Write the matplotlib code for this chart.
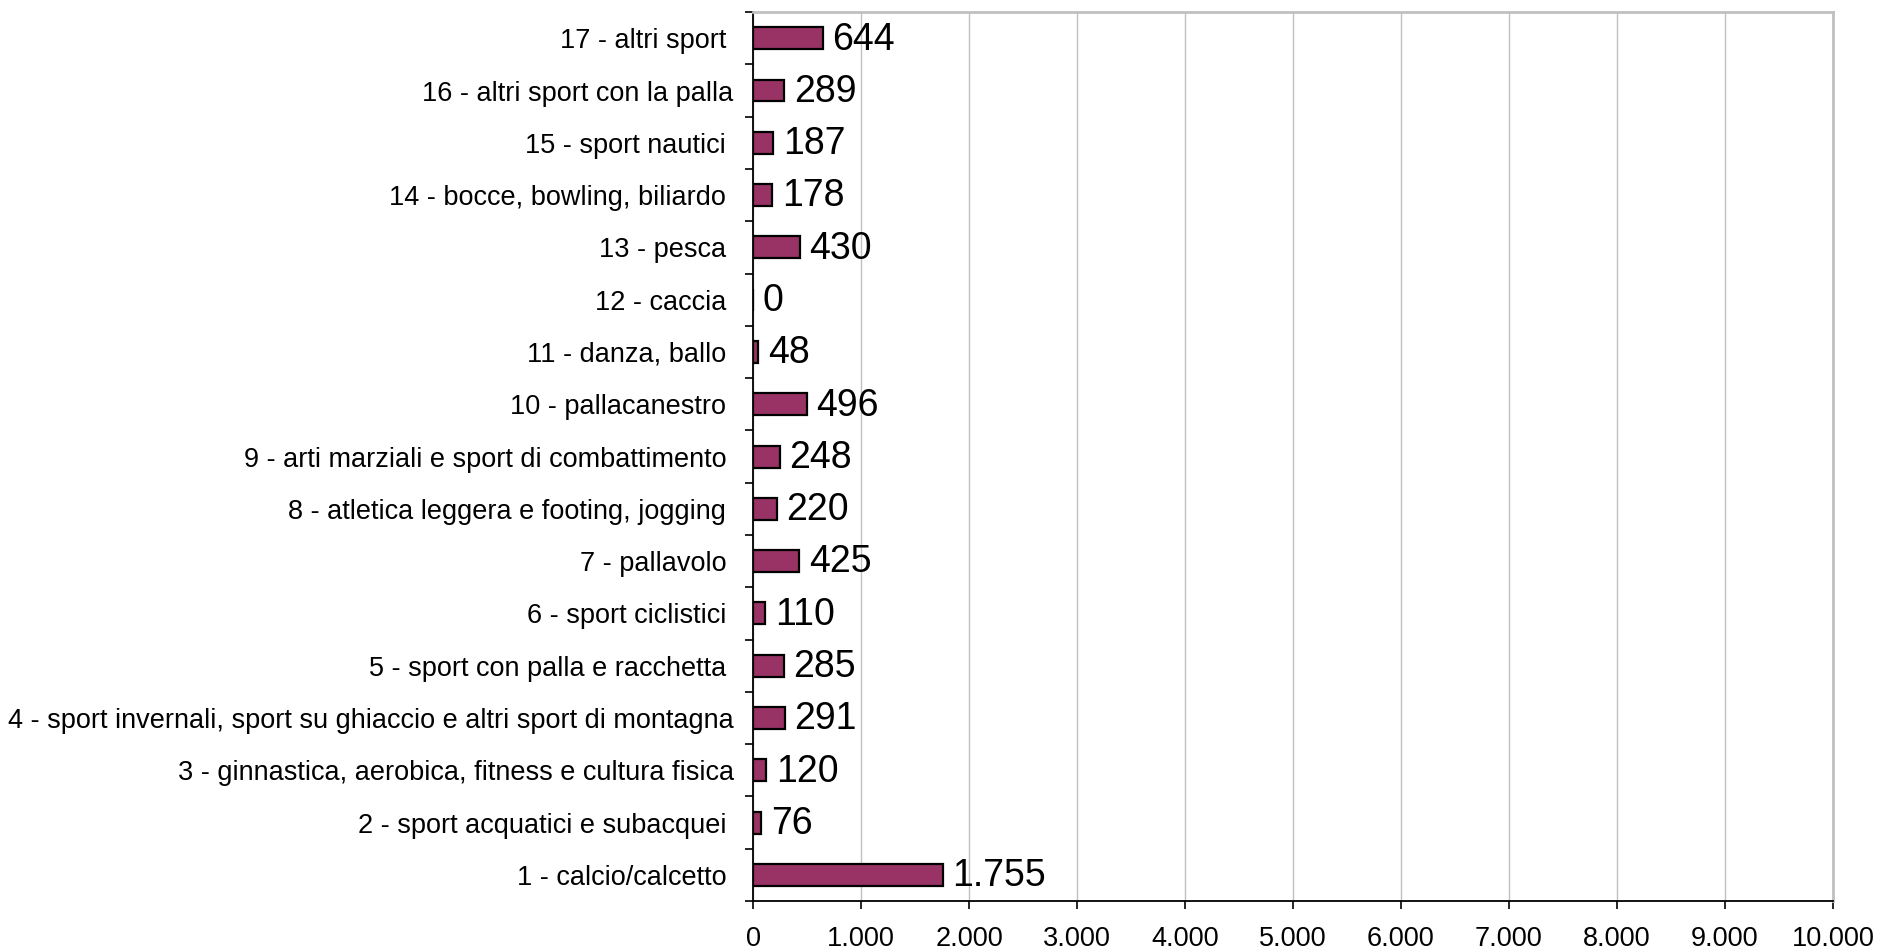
import numpy as np
import matplotlib.pyplot as plt
from matplotlib.ticker import FuncFormatter, FixedLocator

plt.rcParams['font.family'] = ['Liberation Sans', 'DejaVu Sans']

categories = [
    "1 - calcio/calcetto ",
    "2 - sport acquatici e subacquei ",
    "3 - ginnastica, aerobica, fitness e cultura fisica",
    "4 - sport invernali, sport su ghiaccio e altri sport di montagna",
    "5 - sport con palla e racchetta ",
    "6 - sport ciclistici ",
    "7 - pallavolo ",
    "8 - atletica leggera e footing, jogging ",
    "9 - arti marziali e sport di combattimento ",
    "10 - pallacanestro ",
    "11 - danza, ballo ",
    "12 - caccia ",
    "13 - pesca ",
    "14 - bocce, bowling, biliardo ",
    "15 - sport nautici ",
    "16 - altri sport con la palla",
    "17 - altri sport ",
]
values = [1755, 76, 120, 291, 285, 110, 425, 220, 248, 496, 48, 0, 430, 178, 187, 289, 644]
x_ticks = [0, 1000, 2000, 3000, 4000, 5000, 6000, 7000, 8000, 9000, 10000]


def fmt(v, pos=None):
    return f"{int(v):,}".replace(",", ".")


fig = plt.figure(figsize=(18.78, 9.51), dpi=100)
ax = fig.add_axes([0.401, 0.0526, 0.575, 0.9347])

y = np.arange(len(categories))
ax.barh(y, values, height=0.42, color='#993366', edgecolor='black', linewidth=1.6, zorder=3)

for yi, v in zip(y, values):
    ax.annotate(fmt(v), (v, yi), xytext=(7, -1), textcoords='offset points',
                ha='left', va='center', fontsize=27, zorder=4)

ax.set_xlim(0, 10000)
ax.set_ylim(-0.5, len(categories) - 0.5)
ax.set_xticks(x_ticks)
ax.xaxis.set_major_formatter(FuncFormatter(fmt))
ax.set_yticks(y)
ax.set_yticklabels(categories)
ax.yaxis.set_minor_locator(FixedLocator(np.arange(-0.5, len(categories), 1.0)))

ax.tick_params(axis='y', which='major', length=0, pad=14, labelsize=19.5)
ax.tick_params(axis='y', which='minor', length=6, width=1.2, direction='out', color='black')
ax.tick_params(axis='x', which='major', length=6, width=1.2, direction='out', pad=12, labelsize=19.5)

ax.grid(axis='x', color='#c0c0c0', linewidth=1.0, zorder=0)
ax.set_axisbelow(True)

for side in ['top', 'right']:
    ax.spines[side].set_color('#c0c0c0')
    ax.spines[side].set_linewidth(2)
for side in ['left', 'bottom']:
    ax.spines[side].set_color('black')
    ax.spines[side].set_linewidth(1.3)

plt.savefig('out.png', dpi=100)
